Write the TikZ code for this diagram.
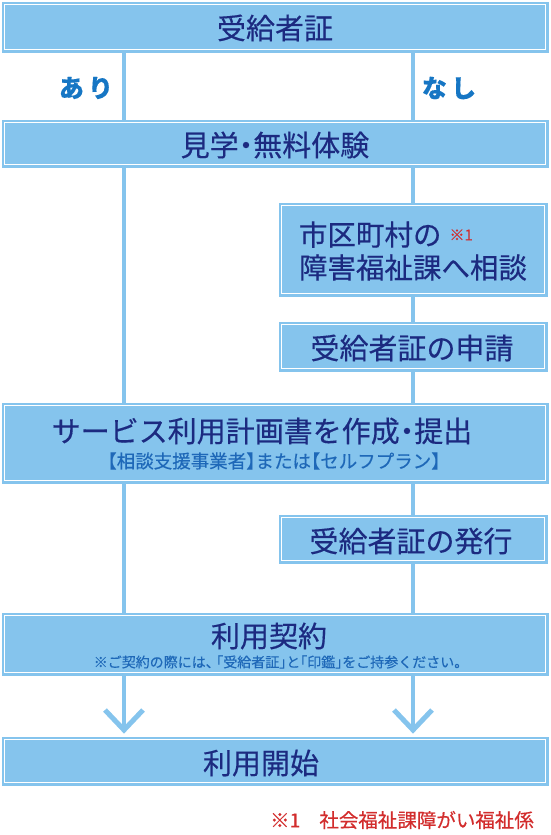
\documentclass[tikz,border=0pt]{standalone}
\usepackage{fontspec}
\setmainfont{Noto Sans CJK JP}[FakeBold=0.35]
\usetikzlibrary{backgrounds,calc}
\definecolor{boxfill}{RGB}{133,196,237}
\definecolor{navy}{RGB}{28,42,128}
\definecolor{lblue}{RGB}{22,118,196}
\definecolor{subblue}{RGB}{30,104,184}
\definecolor{notered}{RGB}{210,45,45}
\newcommand{\ndot}{\hspace{-.25em}・\hspace{-.25em}}
\newcommand{\kk}[1]{\hspace{-#1em}}
\begin{document}
\begin{tikzpicture}[x=1pt,y=-1pt,
  box/.style={fill=boxfill, draw=boxfill, line width=1pt, inner sep=0pt},
  mtext/.style={font=\fontsize{29}{33}\selectfont, text=navy, inner sep=0pt},
  stext/.style={text=subblue, inner sep=0pt},
  lab/.style={font=\fontsize{25}{28}\selectfont\bfseries, text=lblue, inner sep=0pt},
  conn/.style={draw=boxfill, line width=4.5pt},
  chev/.style={draw=boxfill, line width=5pt, miter limit=10}]
\useasboundingbox (0,0) rectangle (550,835);
% boxes
\node[box, minimum width=546pt, minimum height=50pt] (b1) at (275,27) {};
\node[box, minimum width=546pt, minimum height=47pt] (b2) at (275,143.5) {};
\node[box, minimum width=268pt, minimum height=93pt] (b3) at (413,249.5) {};
\node[box, minimum width=268pt, minimum height=49pt] (b4) at (413,346.5) {};
\node[box, minimum width=546pt, minimum height=80pt] (b5) at (275,443) {};
\node[box, minimum width=268pt, minimum height=48pt] (b6) at (413,539) {};
\node[box, minimum width=546pt, minimum height=62pt] (b7) at (275,644) {};
\node[box, minimum width=546pt, minimum height=48pt] (b8) at (275,761) {};
\foreach \n in {b1,b2,b3,b4,b5,b6,b7,b8}
  \draw[white, line width=1.1pt] ([shift={(2.6pt,-2.6pt)}]\n.north west) rectangle ([shift={(-2.6pt,2.6pt)}]\n.south east);
% connectors
\coordinate (xl) at (124,0);
\coordinate (xr) at (413,0);
\coordinate (tl) at (124,730);
\coordinate (tr) at (413,730);
\begin{pgfonlayer}{background}
\draw[conn] (b1.south -| xl) -- (tl);
\draw[conn] (b1.south -| xr) -- (tr);
\draw[chev] ($(tl)+(-19,-20)$) -- (tl) -- ($(tl)+(19,-20)$);
\draw[chev] ($(tr)+(-19,-20)$) -- (tr) -- ($(tr)+(19,-20)$);
\end{pgfonlayer}
% texts
\node[mtext] (t1) at (275,28) {受給者証};
\node[lab] (ari) at (86,88) {あ\,り};
\node[lab] (nashi) at (449,88) {な\,し};
\node[mtext] (t2) at (275,145) {見学\ndot 無料体験};
\node[mtext, font=\fontsize{28.5}{33}\selectfont, align=left] (t3) at (413,251) {市区町村の\hspace{8pt}{\color{notered}\raisebox{5pt}{\fontsize{15}{15}\selectfont ※1}}\\障害福祉課へ相談};
\node[mtext] (t4) at (412,348) {受給者証の申請};
\node[mtext] (t5) at (262,431) {サービス利用計画書を作成\ndot 提出};
\node[stext, font=\fontsize{18.5}{20}\selectfont] (t5b) at (274,461) {【相談支援事業者】\kk{.5}または\kk{.5}【セルフプラン】};
\node[mtext] (t6) at (411,541) {受給者証の発行};
\node[mtext] (t7) at (269,636) {利用契約};
\node[stext, font=\fontsize{14}{15}\selectfont] (t7b) at (281,662) {※ご契約の際には、\kk{.75}「受給者証」\kk{.5}と\kk{.5}「印鑑」\kk{.5}をご持参ください。};
\node[mtext] (t8) at (261,763) {利用開始};
\node[text=notered, inner sep=0pt, font=\fontsize{19.5}{22}\selectfont] (note) at (402,820) {※1\hspace{19pt}社会福祉課障がい福祉係};
\end{tikzpicture}
\end{document}
